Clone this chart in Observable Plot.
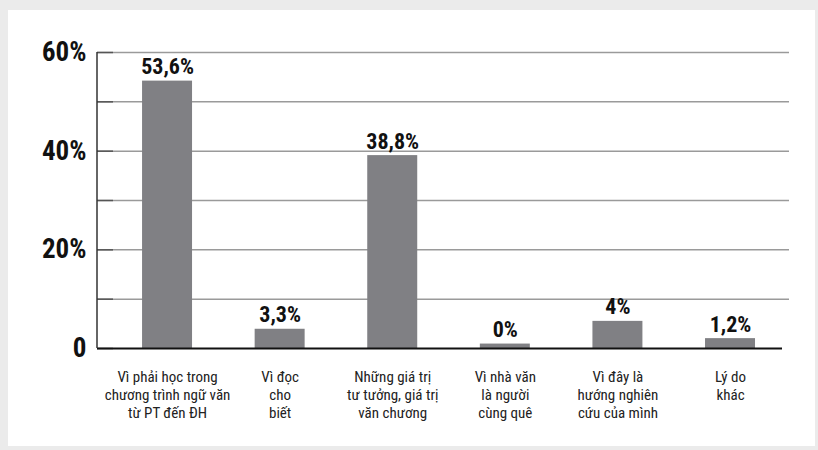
<!DOCTYPE html>
<html>
<head>
<meta charset="utf-8">
<script src="https://cdn.jsdelivr.net/npm/d3@7"></script>
<script src="https://cdn.jsdelivr.net/npm/@observablehq/plot@0.6"></script>
<style>
  html, body { margin: 0; padding: 0; }
  body { width: 818px; height: 450px; background: #ebebeb; position: relative; overflow: hidden; }
  #panel { position: absolute; left: 8px; top: 10px; width: 807px; height: 436px; background: #ffffff; }
  #panel svg { display: block; }
</style>
</head>
<body>
<div id="panel"></div>
<script>
// Categories (x axis labels, multi-line)
const categories = [
  "Vì phải học trong\nchương trình ngữ văn\ntừ PT đến ĐH",
  "Vì đọc\ncho\nbiết",
  "Những giá trị\ntư tưởng, giá trị\nvăn chương",
  "Vì nhà văn\nlà người\ncùng quê",
  "Vì đây là\nhướng nghiên\ncứu của mình",
  "Lý do\nkhác"
];
// Bar heights as drawn in the picture (percent)
const barValues = [54.2, 3.9, 39.1, 0.9, 5.5, 2.0];
// Value labels printed above the bars
const valueLabels = ["53,6%", "3,3%", "38,8%", "0%", "4%", "1,2%"];
// Y axis ticks
const yTicks = [0, 20, 40, 60];
const gridTicks = [10, 20, 30, 40, 50, 60];
const allTicks = [0, 10, 20, 30, 40, 50, 60];

const data = categories.map((c, i) => ({cat: c, value: barValues[i], label: valueLabels[i]}));

const narrow = "'Liberation Sans Narrow', 'Roboto Condensed', 'DejaVu Sans Condensed', 'Arial Narrow', sans-serif";

const chart = Plot.plot({
  width: 807,
  height: 436,
  marginLeft: 89,
  marginRight: 26,
  marginTop: 42,
  marginBottom: 98,
  style: {background: "#ffffff", fontFamily: narrow},
  x: {domain: categories, paddingInner: 0.556, paddingOuter: 0.351, align: 0.57, round: false, axis: null},
  y: {domain: [0, 60], axis: null},
  marks: [
    Plot.ruleY(gridTicks, {stroke: "#9a9a9a", strokeWidth: 1.5}),
    Plot.axisY(allTicks, {tickSize: 16, dx: 16, stroke: "#555", strokeWidth: 1.5, text: null, label: null}),
    Plot.axisY(yTicks, {
      tickSize: 0,
      tickPadding: 11,
      tickFormat: d => d === 0 ? "0" : d + "%",
      fontSize: 27,
      fontWeight: "bold",
      fill: "#111",
      label: null
    }),
    Plot.barY(data, {x: "cat", y: "value", fill: "#808084"}),
    Plot.ruleY([0], {stroke: "#111", strokeWidth: 2, insetRight: 7}),
    Plot.text(data, {
      x: "cat", y: "value", text: "label",
      dy: -7, lineAnchor: "bottom",
      fontSize: 22, fontWeight: "bold", fill: "#111"
    }),
    Plot.text(categories, {
      x: d => d, frameAnchor: "bottom", dy: 20,
      lineAnchor: "top", lineHeight: 1.23,
      fontSize: 15, fill: "#222"
    })
  ]
});

document.getElementById("panel").appendChild(chart);
// vertical y-axis line
const svg = d3.select(chart);
svg.append("line")
  .attr("x1", 89).attr("x2", 89)
  .attr("y1", 42).attr("y2", 338)
  .attr("stroke", "#333").attr("stroke-width", 1.5);
</script>
</body>
</html>
